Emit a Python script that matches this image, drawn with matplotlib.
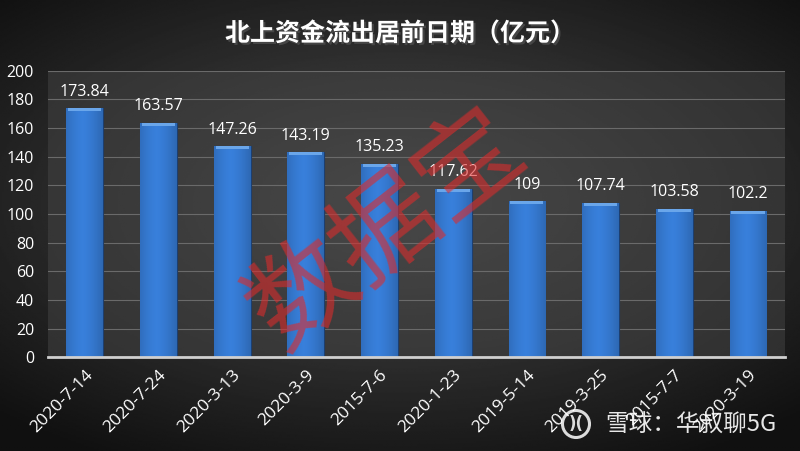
import matplotlib.pyplot as plt
import matplotlib.patheffects as pe
from matplotlib.patches import Ellipse
import numpy as np

plt.rcParams['font.family'] = ['Noto Sans CJK SC', 'DejaVu Sans']

dates = ['2020-7-14', '2020-7-24', '2020-3-13', '2020-3-9', '2015-7-6',
         '2020-1-23', '2019-5-14', '2019-3-25', '2015-7-7', '2020-3-19']
values = [173.84, 163.57, 147.26, 143.19, 135.23, 117.62, 109, 107.74, 103.58, 102.2]
value_labels = ['173.84', '163.57', '147.26', '143.19', '135.23',
                '117.62', '109', '107.74', '103.58', '102.2']

num_font = 'Open Sans'

fig = plt.figure(figsize=(8, 4.51), dpi=100)

# radial dark gradient background
bg = fig.add_axes([0, 0, 1, 1])
yy, xx = np.mgrid[-1:1:300j, -1:1:500j]
r = np.sqrt((xx / 1.1) ** 2 + ((yy + 0.1) / 1.0) ** 2)
bg.imshow(0.30 - 0.18 * np.clip(r, 0, 1.3), cmap='gray', vmin=0, vmax=1,
          aspect='auto', extent=[0, 1, 0, 1])
bg.axis('off')

ax = fig.add_axes([0.06, 0.208, 0.921, 0.635])
ax.set_facecolor((0.27, 0.27, 0.27, 0.5))
x = np.arange(len(dates))
bars = ax.bar(x, values, width=0.5, color='#3b7fd2', edgecolor='#1d3f70',
              linewidth=0.8, zorder=3)

# horizontal shading on each bar
grad = np.linspace(0, 1, 50)
shade = 1 - 0.45 * np.abs(grad - 0.45) ** 1.5
cols = np.zeros((1, 50, 3))
cols[0, :, 0] = 0.22 * shade
cols[0, :, 1] = 0.50 * shade
cols[0, :, 2] = 0.86 * shade
for b in bars:
    im = ax.imshow(cols, aspect='auto', zorder=4,
                   extent=[b.get_x(), b.get_x() + b.get_width(), 0, b.get_height()])
    im.set_clip_path(b)
    ax.bar(b.get_x() + b.get_width() / 2, 2.2, bottom=b.get_height() - 2.2,
           width=b.get_width() * 0.9, color='#6aa6ea', linewidth=0, zorder=5)

for xi, v, lab in zip(x, values, value_labels):
    ax.text(xi, v + 6, lab, ha='center', va='bottom', color='white',
            fontsize=11.5, family=num_font)

ax.set_xlim(-0.5, 9.5)
ax.set_ylim(0, 200)
ax.set_yticks(range(0, 201, 20))
ax.yaxis.grid(True, color='#6a6a6a', linewidth=0.8, zorder=0)
ax.set_axisbelow(True)
for s in ['top', 'right', 'left']:
    ax.spines[s].set_visible(False)
ax.spines['bottom'].set_color('#d0d0d0')
ax.spines['bottom'].set_linewidth(2)
ax.spines['bottom'].set_zorder(6)
ax.tick_params(axis='both', length=0, colors='white')
ax.tick_params(axis='y', pad=10)
ax.set_xticks(x)
ax.set_xticklabels(dates, rotation=45, ha='right', rotation_mode='anchor')
ax.tick_params(axis='x', pad=7)
for t in ax.get_yticklabels():
    t.set_fontfamily(num_font)
    t.set_fontsize(11.5)
for t in ax.get_xticklabels():
    t.set_fontfamily(num_font)
    t.set_fontsize(12.5)

fig.text(0.5, 0.925, '北上资金流出居前日期（亿元）', ha='center', va='center',
         color='white', fontsize=18, fontweight='bold',
         path_effects=[pe.withSimplePatchShadow(offset=(1.5, -1.5), alpha=0.8)])

fig.text(0.484, 0.49, '数据宝', ha='center', va='center', color='#dc2c2c',
         fontsize=76, rotation=38, alpha=0.6, zorder=10)

fig.text(0.97, 0.057, '雪球：华叔聊5G', ha='right', va='center', color='white',
         fontsize=17, alpha=0.9, zorder=10)
lx, ly = 576 / 800, 1 - 424 / 451
logo = Ellipse((lx, ly), 27 / 800, 27 / 451, transform=fig.transFigure,
               fill=False, edgecolor='white', linewidth=2.2, alpha=0.85, zorder=10)
fig.patches.append(logo)
fig.text(lx, ly, ')(', ha='center', va='center', color='white',
         fontsize=12, fontweight='bold', alpha=0.85, zorder=10, family='DejaVu Sans')

fig.savefig('out.png', dpi=100)
